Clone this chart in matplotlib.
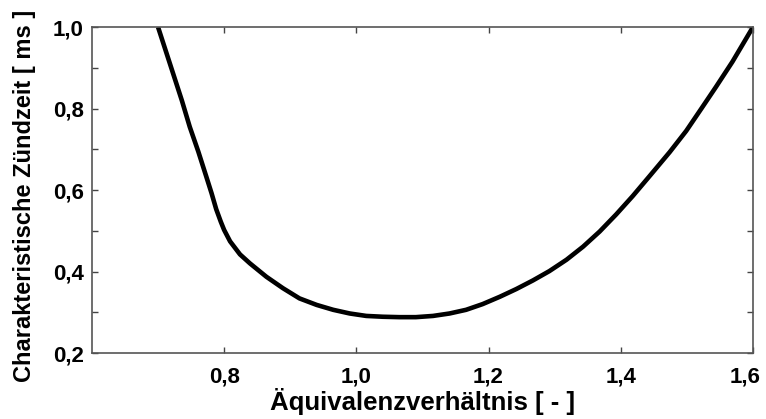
import matplotlib
matplotlib.use('Agg')
import matplotlib.pyplot as plt
from matplotlib.ticker import MultipleLocator, FuncFormatter
from matplotlib.transforms import ScaledTranslation

# curve
phi = [0.700, 0.710, 0.723, 0.736, 0.748, 0.761, 0.773, 0.781, 0.788, 0.795,
       0.800, 0.809, 0.824, 0.839, 0.864, 0.889, 0.914, 0.940, 0.965, 0.990,
       1.015, 1.040, 1.065, 1.090, 1.116, 1.141, 1.166, 1.191, 1.217, 1.242,
       1.267, 1.292, 1.318, 1.343, 1.368, 1.393, 1.418, 1.443, 1.474, 1.499,
       1.522, 1.544, 1.569, 1.600]
tau = [1.000, 0.950, 0.885, 0.820, 0.755, 0.694, 0.633, 0.592, 0.553, 0.522,
       0.502, 0.474, 0.442, 0.420, 0.387, 0.359, 0.334, 0.318, 0.306, 0.297,
       0.291, 0.289, 0.288, 0.288, 0.291, 0.297, 0.306, 0.320, 0.338, 0.357,
       0.378, 0.401, 0.429, 0.461, 0.498, 0.540, 0.585, 0.633, 0.693, 0.745,
       0.800, 0.853, 0.915, 1.000]

x_ticks = [0.8, 1.0, 1.2, 1.4, 1.6]
y_ticks = [0.2, 0.4, 0.6, 0.8, 1.0]

plt.rcParams['font.family'] = ['Liberation Sans', 'DejaVu Sans']
plt.rcParams['font.weight'] = 'bold'

fig = plt.figure(figsize=(7.66, 4.19), dpi=100)
ax = fig.add_axes([0.120, 0.1575, 0.863, 0.778])

ax.plot(phi, tau, color='black', lw=3.3, solid_joinstyle='round',
        solid_capstyle='butt')

ax.set_xlim(0.6, 1.6)
ax.set_ylim(0.2, 1.0)
ax.set_xticks(x_ticks)
ax.set_yticks(y_ticks)
ax.yaxis.set_minor_locator(MultipleLocator(0.1))

comma = FuncFormatter(lambda v, p: f'{v:.1f}'.replace('.', ','))
ax.xaxis.set_major_formatter(comma)
ax.yaxis.set_major_formatter(comma)

ax.tick_params(which='both', direction='in', top=True, right=True,
               length=4, width=1, color='#444444', labelsize=16, pad=6)
ax.tick_params(axis='x', pad=10)
for s in ax.spines.values():
    s.set_color('#555555')
    s.set_linewidth(1.2)

# last x label sits a bit left so it stays inside the picture
last = ax.get_xticklabels()[-1]
last.set_transform(last.get_transform() + ScaledTranslation(-0.08, 0, fig.dpi_scale_trans))

ax.set_xlabel('Äquivalenzverhältnis [ - ]', fontsize=18.5, fontweight='bold',
              color='black', labelpad=0)
ax.set_ylabel('Charakteristische Zündzeit [ ms ]', fontsize=17, fontweight='bold',
              color='black')
ax.yaxis.set_label_coords(-0.085, 0.482)

fig.savefig('out.png', dpi=100)
